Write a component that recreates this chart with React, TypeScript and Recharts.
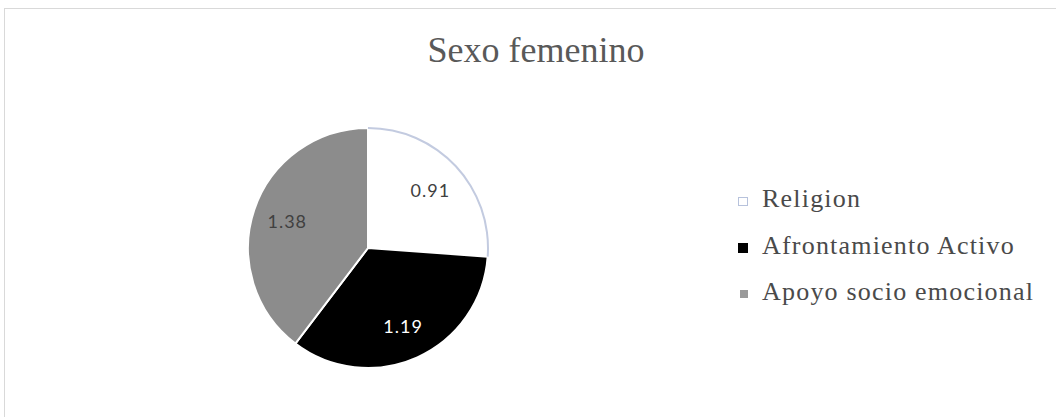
import React from "react";
import { PieChart, Pie, Cell, Legend } from "recharts";

const categories = ["Religion", "Afrontamiento Activo", "Apoyo socio emocional"];
const values = [0.91, 1.19, 1.38];
const sliceColors = ["#ffffff", "#000000", "#8c8c8c"];
const labelColors = ["#404040", "#ffffff", "#404040"];
const markerColors = ["#ffffff", "#000000", "#9a9a9a"];
const title = "Sexo femenino";

const data = categories.map((name, i) => ({ name, value: values[i] }));

const RAD = Math.PI / 180;

function renderLabel(props: any) {
  const { cx, cy, midAngle, outerRadius, index, value } = props;
  const r = outerRadius * 0.71;
  const x = cx + r * Math.cos(-midAngle * RAD);
  const y = cy + r * Math.sin(-midAngle * RAD);
  return (
    <text
      x={x}
      y={y}
      fill={labelColors[index]}
      textAnchor="middle"
      dominantBaseline="central"
      fontFamily="Lato, 'Open Sans', sans-serif"
      fontSize={18}
      letterSpacing={1}
    >
      {value.toFixed(2)}
    </text>
  );
}

const markerSizes = [
  { w: 8, h: 7 },
  { w: 10, h: 10 },
  { w: 8, h: 8 },
];

function LegendBox() {
  return (
    <div>
      {categories.map((name, i) => (
        <div
          key={name}
          style={{
            display: "flex",
            alignItems: "center",
            height: 46.5,
            fontFamily: "'Liberation Serif', 'Times New Roman', serif",
            fontSize: 26,
            letterSpacing: 1.2,
            color: "#4a4a4a",
            whiteSpace: "nowrap",
          }}
        >
          <span
            style={{
              display: "inline-block",
              width: markerSizes[i].w,
              height: markerSizes[i].h,
              marginTop: 4,
              marginLeft: i === 2 ? 2 : 0,
              marginRight: 14,
              background: markerColors[i],
              border: i === 0 ? "1px solid #b7c2dc" : "none",
            }}
          />
          {name}
        </div>
      ))}
    </div>
  );
}

export default function App() {
  return (
    <div
      style={{
        position: "absolute",
        left: 0,
        top: 0,
        width: 1056,
        height: 417,
        overflow: "hidden",
        background: "#fff",
      }}
    >
      <div
        style={{
          position: "absolute",
          left: 4,
          top: 8,
          width: 1100,
          height: 500,
          border: "1px solid #d9d9d9",
        }}
      />
      <div
        style={{
          position: "absolute",
          left: 536,
          top: 32,
          transform: "translateX(-50%)",
          fontFamily: "'Liberation Serif', 'Times New Roman', serif",
          fontSize: 36,
          lineHeight: "36px",
          color: "#595959",
          whiteSpace: "nowrap",
        }}
      >
        {title}
      </div>
      <div style={{ position: "absolute", left: 0, top: 0 }}>
        <PieChart width={1056} height={417} margin={{ top: 0, right: 0, bottom: 0, left: 0 }}>
          <Pie
            data={data}
            dataKey="value"
            nameKey="name"
            cx={368}
            cy={248}
            outerRadius={120}
            startAngle={90}
            endAngle={-270}
            stroke="#ffffff"
            strokeWidth={2}
            label={renderLabel}
            labelLine={false}
            isAnimationActive={false}
          >
            {data.map((d, i) => (
              <Cell key={d.name} fill={sliceColors[i]} />
            ))}
          </Pie>
          <Pie
            data={data}
            dataKey="value"
            nameKey="name"
            cx={368}
            cy={248}
            innerRadius={119}
            outerRadius={121}
            startAngle={90}
            endAngle={-270}
            stroke="none"
            legendType="none"
            isAnimationActive={false}
          >
            {data.map((d, i) => (
              <Cell key={d.name} fill={i === 0 ? "#c3cbe0" : "transparent"} />
            ))}
          </Pie>
          <Legend
            layout="vertical"
            content={() => <LegendBox />}
            wrapperStyle={{ position: "absolute", left: 738, top: 176, width: 318 }}
          />
        </PieChart>
      </div>
    </div>
  );
}
